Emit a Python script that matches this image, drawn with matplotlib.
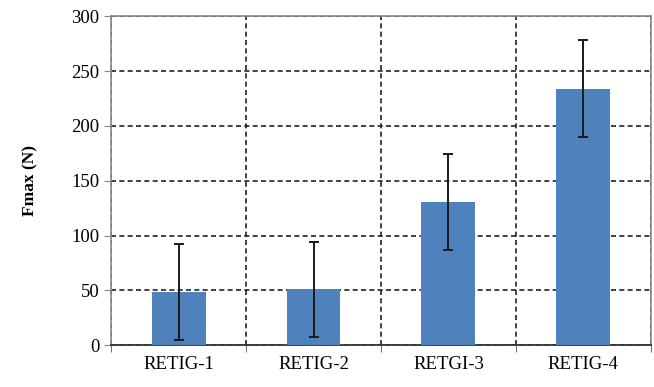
import numpy as np
import matplotlib.pyplot as plt
import matplotlib.ticker as ticker

plt.rcParams['font.family'] = ['Liberation Serif', 'DejaVu Serif']

# Data
categories = ['RETIG-1', 'RETIG-2', 'RETGI-3', 'RETIG-4']
fmax = [48.5, 51, 130.5, 234]
fmax_err = [43.5, 43.5, 43.5, 44]

fig, ax = plt.subplots(figsize=(6.54, 3.87), dpi=100)
fig.subplots_adjust(left=0.17, right=0.995, top=0.958, bottom=0.108)

x = np.arange(len(categories))
ax.bar(x, fmax, width=0.4, color='#4F81BD', zorder=3)
ax.errorbar(x, fmax, yerr=fmax_err, fmt='none', ecolor='#1a1a1a',
            elinewidth=1.4, capsize=3.5, capthick=1.4, zorder=4)

ax.set_xlim(-0.5, len(categories) - 0.5)
ax.set_ylim(0, 300)
ax.yaxis.set_major_locator(ticker.MultipleLocator(50))

ax.set_xticks(x)
ax.set_xticklabels(categories, fontsize=13.5)
ax.set_xticks(np.arange(len(categories) + 1) - 0.5, minor=True)
ax.tick_params(axis='x', which='major', length=0, pad=8)
ax.tick_params(axis='x', which='minor', length=5, direction='out', color='#555555')
ax.tick_params(axis='y', labelsize=13.5, length=5, direction='out', color='#888888')

ax.grid(True, axis='y', which='major', ls=(0, (3, 2)), color='#222222', lw=1.2, zorder=1)
ax.grid(True, axis='x', which='minor', ls=(0, (3, 2)), color='#222222', lw=1.2, zorder=1)

for side in ['left', 'top', 'right']:
    ax.spines[side].set_color('#888888')
    ax.spines[side].set_linewidth(1.2)
ax.spines['bottom'].set_color('#333333')
ax.spines['bottom'].set_linewidth(1.3)

ax.set_ylabel('Fmax (N)', fontsize=12.5, fontweight='bold', labelpad=24)

plt.savefig('out.png', dpi=100)
